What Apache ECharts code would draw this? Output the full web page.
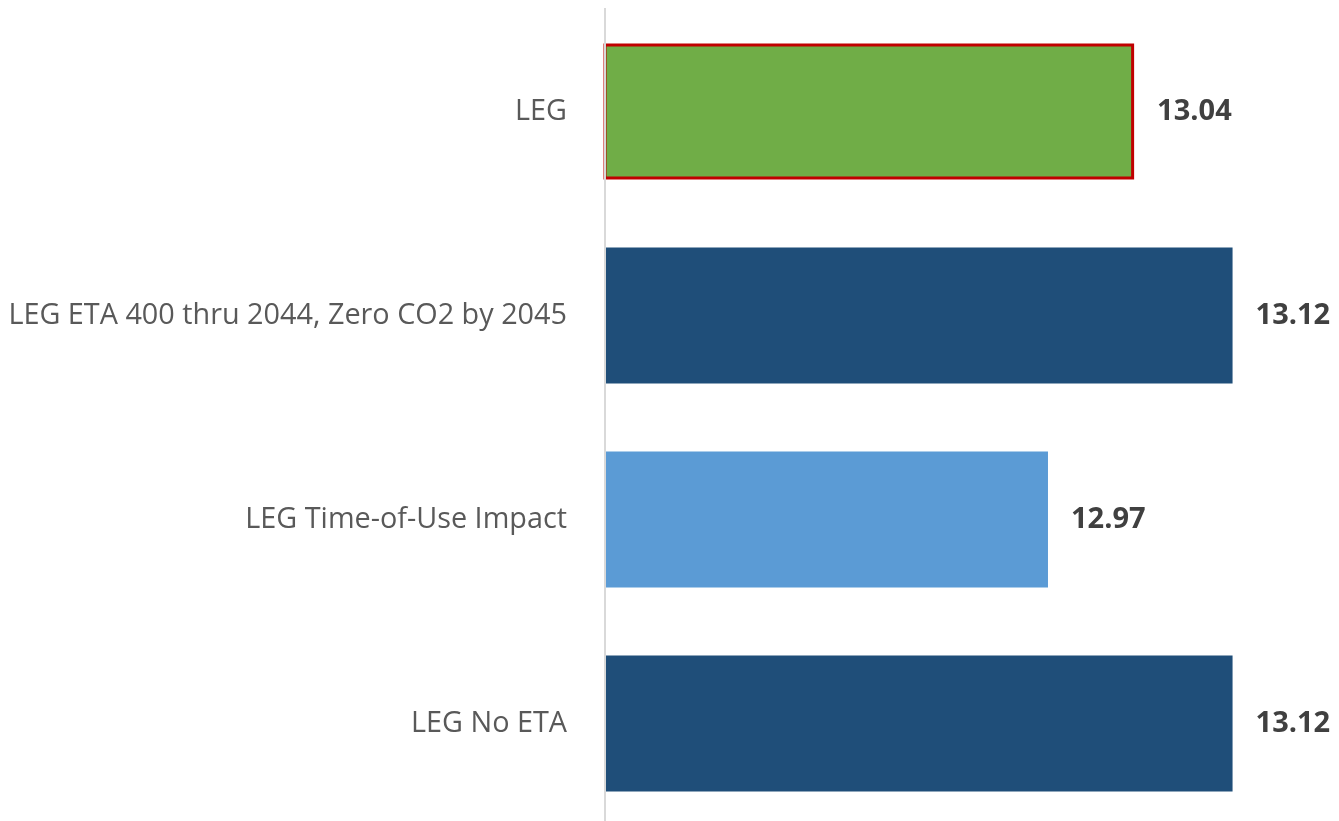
<!DOCTYPE html>
<html>
<head>
<meta charset="utf-8">
<script src="https://cdn.jsdelivr.net/npm/echarts@6/dist/echarts.min.js"></script>
<style>
  html, body { margin: 0; padding: 0; background: #ffffff; overflow: hidden; }
  #chart { width: 1339px; height: 830px; }
</style>
</head>
<body>
<div id="chart"></div>
<script>
// Scenario names, top to bottom
const categories = [
  'LEG',
  'LEG ETA 400 thru 2044, Zero CO2 by 2045',
  'LEG Time-of-Use Impact',
  'LEG No ETA'
];
// Value per scenario
const values = [13.04, 13.12, 12.97, 13.12];
// Fill colour per scenario
const barColors = ['#70ad47', '#1f4e79', '#5b9bd5', '#1f4e79'];
// Outline per scenario (only the base case is outlined)
const borderColors = ['#c00000', null, null, null];

const chart = echarts.init(document.getElementById('chart'), null, { renderer: 'canvas' });

const seriesData = values.map((v, i) => ({
  value: v,
  itemStyle: {
    color: barColors[i],
    borderColor: borderColors[i] || 'transparent',
    borderWidth: borderColors[i] ? 3 : 0
  }
}));

chart.setOption({
  animation: false,
  backgroundColor: '#ffffff',
  grid: { left: 605, width: 726, top: 9.5, height: 816, containLabel: false },
  xAxis: {
    type: 'value',
    min: 12.61,
    max: 13.2,
    show: false
  },
  yAxis: {
    type: 'category',
    data: categories,
    inverse: true,
    axisLine: { show: false },
    axisTick: { show: false },
    axisLabel: {
      color: '#595959',
      fontFamily: 'Open Sans',
      fontSize: 28.8,
      margin: 38
    }
  },
  series: [{
    type: 'bar',
    data: seriesData,
    barWidth: 136,
    label: {
      show: true,
      position: 'right',
      distance: 23,
      color: '#404040',
      fontFamily: 'Open Sans',
      fontWeight: 'bold',
      fontSize: 29,
      formatter: p => p.value.toFixed(2)
    }
  }],
  // Vertical baseline at the left edge of the plot
  graphic: [{
    type: 'line',
    z: 100,
    shape: { x1: 605, y1: 8, x2: 605, y2: 821 },
    style: { stroke: '#d9d9d9', lineWidth: 2 }
  }]
});
</script>
</body>
</html>
